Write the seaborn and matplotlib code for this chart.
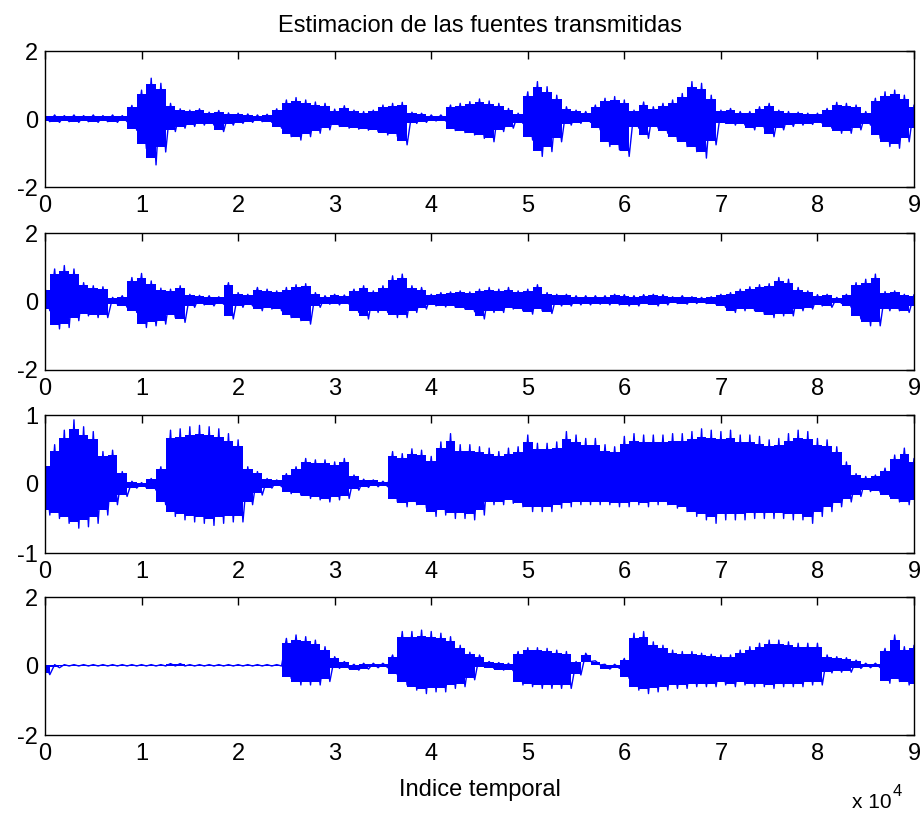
import numpy as np
import pandas as pd
import matplotlib
matplotlib.use("Agg")
import matplotlib.pyplot as plt
import seaborn as sns

# sample index (thousands of samples) where envelopes were read
k_index = list(range(0, 91))

# ---- Source 1 envelope (upper / lower) ----
s1_upper = [0.1, 0.12, 0.1, 0.12, 0.1, 0.12, 0.1, 0.12, 0.1, 0.4,
            0.85, 1.2, 1.05, 0.46, 0.3, 0.26, 0.3, 0.2, 0.25, 0.18,
            0.17, 0.15, 0.12, 0.14, 0.3, 0.56, 0.63, 0.56, 0.5, 0.46,
            0.29, 0.39, 0.26, 0.22, 0.26, 0.41, 0.46, 0.49, 0.2, 0.17,
            0.12, 0.12, 0.41, 0.46, 0.51, 0.59, 0.53, 0.46, 0.31, 0.17,
            0.8, 1.1, 0.95, 0.7, 0.36, 0.26, 0.22, 0.41, 0.61, 0.66,
            0.56, 0.26, 0.5, 0.36, 0.46, 0.56, 0.75, 1.1, 1.05, 0.7,
            0.26, 0.31, 0.22, 0.22, 0.36, 0.46, 0.26, 0.22, 0.2, 0.17,
            0.17, 0.31, 0.49, 0.46, 0.41, 0.22, 0.61, 0.8, 0.85, 0.7, 0.41]
s1_lower = [-0.08, -0.1, -0.08, -0.1, -0.08, -0.1, -0.08, -0.1, -0.08, -0.33,
            -0.87, -1.35, -0.97, -0.37, -0.27, -0.22, -0.18, -0.18, -0.37, -0.18,
            -0.13, -0.1, -0.08, -0.1, -0.27, -0.52, -0.62, -0.52, -0.42, -0.32,
            -0.22, -0.27, -0.3, -0.33, -0.37, -0.47, -0.52, -0.76, -0.13, -0.1,
            -0.06, -0.06, -0.34, -0.4, -0.47, -0.57, -0.67, -0.37, -0.27, -0.13,
            -0.62, -1.1, -0.96, -0.67, -0.18, -0.13, -0.1, -0.32, -0.81, -0.91,
            -1.1, -0.27, -0.57, -0.27, -0.42, -0.62, -0.81, -0.96, -1.15, -0.76,
            -0.13, -0.18, -0.18, -0.32, -0.27, -0.52, -0.32, -0.22, -0.18, -0.16,
            -0.13, -0.27, -0.42, -0.42, -0.32, -0.18, -0.57, -0.81, -0.86, -0.67, -0.32]

# ---- Source 2 envelope ----
s2_upper = [0.4, 0.95, 1.05, 0.95, 0.55, 0.46, 0.43, 0.12, 0.17, 0.7,
            0.82, 0.6, 0.39, 0.36, 0.46, 0.21, 0.18, 0.17, 0.14, 0.55,
            0.26, 0.21, 0.41, 0.36, 0.31, 0.41, 0.49, 0.52, 0.26, 0.17,
            0.21, 0.19, 0.36, 0.46, 0.31, 0.46, 0.75, 0.8, 0.46, 0.41,
            0.21, 0.26, 0.28, 0.31, 0.28, 0.36, 0.41, 0.36, 0.41, 0.31,
            0.36, 0.49, 0.26, 0.21, 0.21, 0.17, 0.17, 0.17, 0.17, 0.21,
            0.2, 0.17, 0.2, 0.21, 0.2, 0.14, 0.17, 0.14, 0.12, 0.14,
            0.21, 0.26, 0.36, 0.43, 0.49, 0.52, 0.7, 0.65, 0.41, 0.31,
            0.2, 0.21, 0.12, 0.21, 0.55, 0.65, 0.8, 0.29, 0.31, 0.21, 0.2]
s2_lower = [-0.27, -0.8, -0.76, -0.56, -0.42, -0.47, -0.47, -0.08, -0.17, -0.32,
            -0.76, -0.71, -0.66, -0.47, -0.61, -0.17, -0.1, -0.13, -0.08, -0.51,
            -0.17, -0.13, -0.27, -0.22, -0.27, -0.47, -0.56, -0.66, -0.17, -0.08,
            -0.1, -0.08, -0.32, -0.51, -0.32, -0.32, -0.47, -0.47, -0.32, -0.22,
            -0.13, -0.16, -0.17, -0.22, -0.3, -0.51, -0.32, -0.32, -0.22, -0.27,
            -0.37, -0.27, -0.35, -0.13, -0.13, -0.1, -0.1, -0.08, -0.1, -0.1,
            -0.13, -0.13, -0.08, -0.13, -0.1, -0.06, -0.08, -0.06, -0.06, -0.08,
            -0.17, -0.32, -0.27, -0.27, -0.37, -0.47, -0.42, -0.42, -0.27, -0.22,
            -0.13, -0.17, -0.06, -0.17, -0.51, -0.71, -0.71, -0.27, -0.27, -0.32, -0.17]

# ---- Source 3 envelope ----
s3_upper = [0.3, 0.57, 0.78, 0.93, 0.83, 0.76, 0.47, 0.49, 0.18, 0.04,
            0.02, 0.08, 0.25, 0.78, 0.8, 0.83, 0.85, 0.83, 0.8, 0.73,
            0.64, 0.25, 0.18, 0.08, 0.06, 0.15, 0.25, 0.37, 0.35, 0.35,
            0.32, 0.37, 0.13, 0.07, 0.06, 0.04, 0.47, 0.44, 0.51, 0.49,
            0.4, 0.61, 0.73, 0.57, 0.57, 0.54, 0.52, 0.47, 0.52, 0.54,
            0.71, 0.59, 0.59, 0.61, 0.76, 0.71, 0.66, 0.66, 0.57, 0.54,
            0.69, 0.73, 0.71, 0.71, 0.71, 0.73, 0.73, 0.76, 0.8, 0.78,
            0.76, 0.78, 0.71, 0.71, 0.69, 0.64, 0.66, 0.73, 0.78, 0.76,
            0.66, 0.64, 0.54, 0.32, 0.15, 0.11, 0.13, 0.23, 0.42, 0.52, 0.37]
s3_lower = [-0.45, -0.5, -0.57, -0.64, -0.62, -0.57, -0.45, -0.3, -0.18, -0.06,
            -0.05, -0.09, -0.3, -0.47, -0.52, -0.55, -0.57, -0.6, -0.57, -0.55,
            -0.55, -0.3, -0.16, -0.06, -0.04, -0.14, -0.16, -0.21, -0.23, -0.26,
            -0.23, -0.21, -0.09, -0.05, -0.04, -0.04, -0.26, -0.33, -0.3, -0.35,
            -0.47, -0.45, -0.5, -0.5, -0.52, -0.45, -0.3, -0.3, -0.28, -0.33,
            -0.4, -0.4, -0.4, -0.35, -0.33, -0.3, -0.3, -0.3, -0.3, -0.33,
            -0.33, -0.3, -0.33, -0.3, -0.3, -0.35, -0.4, -0.47, -0.52, -0.57,
            -0.52, -0.52, -0.52, -0.5, -0.5, -0.5, -0.5, -0.52, -0.52, -0.57,
            -0.47, -0.4, -0.33, -0.26, -0.18, -0.11, -0.12, -0.18, -0.26, -0.3, -0.28]

# ---- Source 4 envelope ----
s4_upper = [0.05, 0.04, 0.04, 0.04, 0.04, 0.04, 0.04, 0.04, 0.04, 0.04,
            0.04, 0.04, 0.04, 0.07, 0.07, 0.04, 0.04, 0.04, 0.04, 0.04,
            0.04, 0.04, 0.04, 0.04, 0.04, 0.8, 0.9, 0.85, 0.75, 0.56,
            0.27, 0.13, 0.05, 0.08, 0.08, 0.08, 0.32, 1.0, 1.0, 1.04,
            1.0, 0.95, 0.85, 0.6, 0.4, 0.32, 0.13, 0.1, 0.08, 0.42,
            0.53, 0.53, 0.51, 0.46, 0.42, 0.13, 0.37, 0.15, 0.05, 0.05,
            0.22, 0.95, 1.0, 0.7, 0.6, 0.46, 0.42, 0.42, 0.37, 0.34,
            0.32, 0.32, 0.46, 0.56, 0.66, 0.75, 0.75, 0.7, 0.66, 0.66,
            0.66, 0.32, 0.27, 0.24, 0.17, 0.08, 0.08, 0.51, 0.9, 0.56, 0.6]
s4_lower = [-0.25, -0.05, 0.0, 0.0, 0.0, 0.0, 0.0, 0.0, 0.0, 0.0,
            0.0, 0.0, 0.0, 0.0, 0.0, 0.0, 0.0, 0.0, 0.0, 0.0,
            0.0, 0.0, 0.0, 0.0, 0.0, -0.36, -0.55, -0.55, -0.55, -0.45,
            -0.07, -0.07, -0.12, -0.09, -0.05, -0.05, -0.26, -0.55, -0.7, -0.8,
            -0.75, -0.75, -0.65, -0.6, -0.4, -0.02, -0.07, -0.12, -0.14, -0.55,
            -0.6, -0.65, -0.65, -0.65, -0.65, -0.26, 0.13, 0.03, -0.09, -0.07,
            -0.36, -0.7, -0.8, -0.75, -0.7, -0.65, -0.65, -0.6, -0.6, -0.6,
            -0.55, -0.6, -0.55, -0.6, -0.6, -0.65, -0.6, -0.6, -0.6, -0.55,
            -0.55, -0.2, -0.18, -0.18, -0.07, -0.05, -0.05, -0.5, -0.45, -0.55, -0.6]

y_ranges = [(-2, 2), (-2, 2), (-1, 1), (-2, 2)]
y_ticks = [[-2, 0, 2], [-2, 0, 2], [-1, 0, 1], [-2, 0, 2]]
x_tick_labels = ["0", "1", "2", "3", "4", "5", "6", "7", "8", "9"]
title_text = "Estimacion de las fuentes transmitidas"
xlabel_text = "Indice temporal"

sns.set_style("white")
plt.rcParams["font.family"] = ["Liberation Sans", "DejaVu Sans"]
plt.rcParams["text.color"] = "black"

W, H = 922, 816
fig = plt.figure(figsize=(W / 100, H / 100), dpi=100)
boxes = [(51, 187), (233, 370), (415, 553), (597, 735)]
left_px, right_px = 45, 914

signals = [(s1_upper, s1_lower), (s2_upper, s2_lower),
           (s3_upper, s3_lower), (s4_upper, s4_lower)]
blue = "#0000FF"
xs = np.array(k_index) * 1000.0

for i, ((up, lo), (t, b)) in enumerate(zip(signals, boxes)):
    ax = fig.add_axes([left_px / W, 1 - b / H, (right_px - left_px) / W, (b - t) / H])
    up = np.array(up)
    lo = np.array(lo)
    # solid core of the waveform
    ax.fill_between(xs, lo * 0.85, up * 0.85, color=blue, lw=0, step="mid")
    # zigzag between read upper and lower values (spiky waveform look)
    zx, zy = [], []
    for x, u, l in zip(xs, up, lo):
        zx += [x, x + 500]
        zy += [u, l]
    df = pd.DataFrame({"idx": zx, "amp": zy})
    sns.lineplot(data=df, x="idx", y="amp", ax=ax, sort=False, estimator=None,
                 color=blue, lw=1.0)
    ax.set_xlim(0, 90000)
    ax.set_ylim(*y_ranges[i])
    ax.set_xticks(np.arange(0, 90001, 10000))
    ax.set_xticklabels(x_tick_labels)
    ax.set_yticks(y_ticks[i])
    ax.set_yticklabels([str(v) for v in y_ticks[i]])
    ax.set_xlabel("")
    ax.set_ylabel("")
    ax.tick_params(direction="in", length=6, width=1, top=True, right=True,
                   labelsize=17, colors="black", pad=5)
    ax.tick_params(axis="x", pad=6)
    for sp in ax.spines.values():
        sp.set_color("black")
        sp.set_linewidth(1)
    if i == 0:
        ax.set_title(title_text, fontsize=17, pad=14, color="black")

fig.text(480 / W, 1 - 790 / H, xlabel_text, ha="center", va="center",
         fontsize=17, color="black")
fig.text(852 / W, 1 - 802 / H, "x 10", ha="left", va="center", fontsize=15,
         color="black")
fig.text(893 / W, 1 - 792 / H, "4", ha="left", va="center", fontsize=12,
         color="black")

fig.savefig("out.png", dpi=100)
